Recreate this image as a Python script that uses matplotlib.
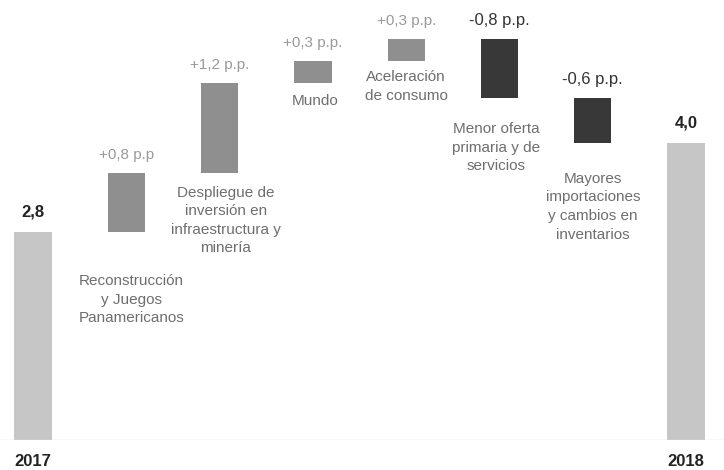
import numpy as np
import matplotlib
matplotlib.use("Agg")
import matplotlib.pyplot as plt

plt.rcParams['font.family'] = ['Liberation Sans', 'DejaVu Sans']

# datos del grafico (crecimiento del PBI, %)
anios = ['2017', '2018']
valor_inicial = 2.8
valor_final = 4.0
factores = ['Reconstrucción\ny Juegos\nPanamericanos',
            'Despliegue de\ninversión en\ninfraestructura y\nminería',
            'Mundo',
            'Aceleración\nde consumo',
            'Menor oferta\nprimaria y de\nservicios',
            'Mayores\nimportaciones\ny cambios en\ninventarios']
aportes = [0.8, 1.2, 0.3, 0.3, -0.8, -0.6]
etiquetas_aporte = ['+0,8 p.p', '+1,2 p.p.', '+0,3 p.p.', '+0,3 p.p.',
                    '-0,8 p.p.', '-0,6 p.p.']
etiquetas_total = ['2,8', '4,0']

# desplazamiento (pixeles) de cada descripcion respecto a la base de su barra
desc_dx = [5, 6, 2, 0, -3, 0]
desc_dy = [-42, -13, -11, -9, -24, -29]

fig = plt.figure(figsize=(7.24, 4.70), dpi=100)
ax = fig.add_axes([0, 30 / 470, 1, 440 / 470])

n = len(factores)
x_fact = np.arange(1, n + 1)
acum = valor_inicial + np.cumsum([0] + aportes[:-1])
bases = np.where(np.array(aportes) > 0, acum, acum + np.array(aportes))
alturas = np.abs(aportes)
colores = ['#8f8f8f' if a > 0 else '#383838' for a in aportes]

ancho = 0.4
ax.bar([0, n + 1], [valor_inicial, valor_final], width=ancho, color='#c6c6c6')
ax.bar(x_fact, alturas, bottom=bases, width=ancho, color=colores)

# etiquetas de totales
for xi, v, t in zip([0, n + 1], [valor_inicial, valor_final], etiquetas_total):
    ax.annotate(t, (xi, v), xytext=(0, 12), textcoords='offset pixels',
                ha='center', va='bottom', fontsize=12, fontweight='bold',
                color='#222222')

# etiquetas de aportes y descripciones
for i, (xi, b, h, a) in enumerate(zip(x_fact, bases, alturas, aportes)):
    if a > 0:
        ax.annotate(etiquetas_aporte[i], (xi, b + h), xytext=(0, 11),
                    textcoords='offset pixels', ha='center', va='bottom',
                    fontsize=11, color='#9a9a9a')
    else:
        ax.annotate(etiquetas_aporte[i], (xi, b + h), xytext=(0, 11),
                    textcoords='offset pixels', ha='center', va='bottom',
                    fontsize=12, color='#333333')
    ax.annotate(factores[i], (xi, b), xytext=(desc_dx[i], desc_dy[i]),
                textcoords='offset pixels', ha='center', va='top',
                fontsize=11, color='#6e6e6e', linespacing=1.42)

ax.axhline(0, color='#dddddd', lw=1)
ax.set_xlim(-33 / 93.3, (724 - 33) / 93.3)
ax.set_ylim(0, 440 / 74.3)
ax.set_xticks([0, n + 1])
ax.set_xticklabels(anios, fontsize=12, fontweight='bold', color='#222222')
ax.tick_params(axis='x', length=0, pad=10)
ax.set_yticks([])
for s in ax.spines.values():
    s.set_visible(False)

fig.savefig('out.png', dpi=100)
